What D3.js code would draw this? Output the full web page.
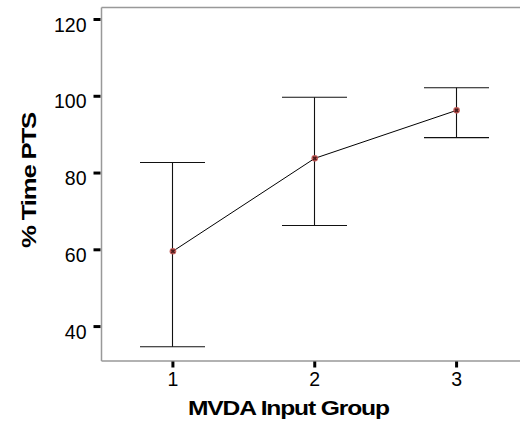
<!DOCTYPE html>
<html>
<head>
<meta charset="utf-8">
<script src="https://cdn.jsdelivr.net/npm/d3@7"></script>
<style>
  html, body { margin: 0; padding: 0; background: #fff; }
  svg { display: block; }
  text { font-family: "Liberation Sans", Arial, sans-serif; fill: #000; }
</style>
</head>
<body>
<script>
// ---- data ----
const groups = [1, 2, 3];
const means = [59.5, 83.7, 96.2];
const upper = [82.6, 99.6, 102.1];
const lower = [34.6, 66.2, 89.1];
const yTicks = [40, 60, 80, 100, 120];
const xTickLabels = ["1", "2", "3"];
const xTitle = "MVDA Input Group";
const yTitle = "% Time PTS";

// ---- layout ----
const W = 520, H = 424;
const svg = d3.select("body").append("svg").attr("width", W).attr("height", H);

const x = d3.scaleLinear().domain([0.5, 3.5]).range([101.5, 527]);
const y = d3.scaleLinear().domain([30.9, 123]).range([361, 7.5]);

const capHalf = 32.5;

// frame (open on the right side, clipped by the window)
const frame = svg.append("g").attr("stroke", "#999").attr("stroke-width", 1.5).attr("fill", "none");
frame.append("line").attr("x1", x(0.5)).attr("x2", x(3.5)).attr("y1", y(123)).attr("y2", y(123));
frame.append("line").attr("x1", x(0.5)).attr("x2", x(3.5)).attr("y1", y(30.9)).attr("y2", y(30.9));
frame.append("line").attr("x1", x(0.5)).attr("x2", x(0.5)).attr("y1", y(123)).attr("y2", y(30.9));

// y axis
const yAxis = d3.axisLeft(y).tickValues(yTicks).tickSize(7).tickPadding(7).tickFormat(d3.format("d"));
const gy = svg.append("g").attr("transform", `translate(${x(0.5) - 1},0)`).call(yAxis);
gy.select(".domain").remove();
gy.selectAll(".tick line").attr("stroke", "#000").attr("stroke-width", 3);
gy.selectAll(".tick text").attr("font-size", 19.5).attr("dy", "0.62em")
  .style("font-family", '"Liberation Sans", Arial, sans-serif');

// x axis
const xAxis = d3.axisBottom(x).tickValues(groups).tickSize(6).tickPadding(5)
  .tickFormat((d, i) => xTickLabels[i]);
const gx = svg.append("g").attr("transform", `translate(0,${y(30.9) + 0.5})`).call(xAxis);
gx.select(".domain").remove();
gx.selectAll(".tick line").attr("stroke", "#000").attr("stroke-width", 3);
gx.selectAll(".tick text").attr("font-size", 19.5)
  .style("font-family", '"Liberation Sans", Arial, sans-serif');

// error bars
const eb = svg.append("g").attr("stroke", "#111").attr("stroke-width", 1.1).attr("fill", "none");
groups.forEach((g, i) => {
  const cx = Math.round(x(g)) + 0.5;
  eb.append("line").attr("x1", cx).attr("x2", cx).attr("y1", y(upper[i])).attr("y2", y(lower[i]));
  eb.append("line").attr("x1", cx - capHalf).attr("x2", cx + capHalf).attr("y1", y(upper[i])).attr("y2", y(upper[i]));
  eb.append("line").attr("x1", cx - capHalf).attr("x2", cx + capHalf).attr("y1", y(lower[i])).attr("y2", y(lower[i]));
});

// mean line
const line = d3.line().x((d, i) => x(groups[i]) + 0.5).y(d => y(d));
svg.append("path").datum(means).attr("d", line)
  .attr("fill", "none").attr("stroke", "#000").attr("stroke-width", 1);

// markers
const mk = svg.append("g");
means.forEach((m, i) => {
  const cx = x(groups[i]) + 0.5, cy = y(m);
  mk.append("circle").attr("cx", cx).attr("cy", cy).attr("r", 3.3).attr("fill", "#c0504d").attr("opacity", 0.9);
  mk.append("path").attr("d", d3.symbol().type(d3.symbolCross).size(12)())
    .attr("transform", `translate(${cx},${cy}) rotate(45)`).attr("fill", "#4a1a1a");
});

// axis titles: condensed bold text horizontally stretched to the measured span
function stretchedText(parent, str, targetLen, transformBase) {
  const g = parent.append("g").attr("transform", transformBase);
  const t = g.append("text")
    .attr("font-size", 19.5).attr("font-weight", "bold")
    .attr("letter-spacing", -0.9)
    .text(str);
  const len = t.node().getComputedTextLength();
  t.attr("transform", `scale(${targetLen / len},1)`);
  return t;
}
stretchedText(svg, xTitle, 201, "translate(188,415)");
stretchedText(svg, yTitle, 135, "translate(35.5,248) rotate(-90)");
</script>
</body>
</html>
